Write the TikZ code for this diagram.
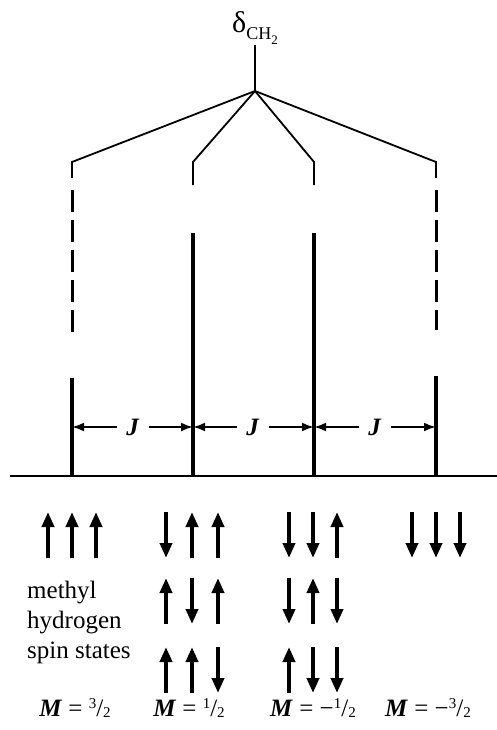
\documentclass[tikz,border=0pt]{standalone}
\usepackage{fontspec}
\setmainfont{Liberation Serif}
\usetikzlibrary{arrows.meta,positioning}
\tikzset{
  brk/.style={line width=1.8pt},
  peak/.style={line width=3.8pt},
  ghost/.style={line width=3pt, dash pattern=on 22pt off 8pt},
  base/.style={line width=2.4pt},
  jarr/.style={-{Latex[length=12pt,width=9pt]}, line width=2.2pt},
  spin/.style={-{Triangle[length=15pt,width=12pt]}, line width=4pt},
  lbl/.style={font=\fontsize{25}{30}\selectfont, inner sep=0pt},
}
\newcommand{\slfrac}[2]{\raisebox{0.3em}{\fontsize{15}{15}\selectfont #1}/\raisebox{-0.05em}{\fontsize{15}{15}\selectfont #2}}
\newcommand{\bfit}[1]{\textbf{\textit{#1}}}

\begin{document}
\begin{tikzpicture}[x=1pt,y=-1pt]
  \useasboundingbox (0,0) rectangle (497,730);
  % chemical shift and splitting tree
  \node[lbl] (delta) at (255,28)
       {\fontsize{30}{30}\selectfont δ\raisebox{-0.25em}{\fontsize{18}{18}\selectfont CH\raisebox{-0.25em}{\fontsize{13}{13}\selectfont 2}}};
  \coordinate (apex) at (255,91);
  \draw[brk] (delta.south) -- (apex);
  \foreach \x/\n in {72/1,193/2,314/3,436/4}
    \coordinate (p\n) at (\x,476);
  \draw[brk] (p1 |- 0,178) -- (p1 |- 0,162) -- (apex) -- (p4 |- 0,162) -- (p4 |- 0,178);
  \draw[brk] (p2 |- 0,185) -- (p2 |- 0,162) -- (apex) -- (p3 |- 0,162) -- (p3 |- 0,185);
  \draw[ghost] (p1 |- 0,190) -- (p1 |- 0,334);
  \draw[ghost] (p4 |- 0,190) -- (p4 |- 0,330);
  % lines of the quartet
  \draw[peak] (p1 |- 0,378) -- (p1);
  \draw[peak] (p2 |- 0,233) -- (p2);
  \draw[peak] (p3 |- 0,233) -- (p3);
  \draw[peak] (p4 |- 0,376) -- (p4);
  \coordinate (b0) at (10,476);
  \coordinate (b1) at (497,476);
  \draw[base] (b0) -- (b1);
  % coupling constants
  \node[lbl, inner xsep=9pt] (j1) at (133,427) {\bfit{J}};
  \node[lbl, inner xsep=9pt] (j2) at (253,427) {\bfit{J}};
  \node[lbl, inner xsep=9pt] (j3) at (375,427) {\bfit{J}};
  \draw[jarr] (j1) -- (p1 |- j1);
  \draw[jarr] (j1) -- (p2 |- j1);
  \draw[jarr] (j2) -- (p2 |- j2);
  \draw[jarr] (j2) -- (p3 |- j2);
  \draw[jarr] (j3) -- (p3 |- j3);
  \draw[jarr] (j3) -- (p4 |- j3);
  % spin states (1 = up, -1 = down)
  \foreach \x/\y/\s in {48/535/1, 72/535/1, 96/535/1,
                        166/535/-1, 192/535/1, 218/535/1,
                        166/601/1, 192/601/-1, 218/601/1,
                        166/670/1, 192/670/1, 218/670/-1,
                        289/535/-1, 313/535/-1, 337/535/1,
                        289/601/-1, 313/601/1, 337/601/-1,
                        289/670/1, 313/670/-1, 337/670/-1,
                        412/535/-1, 436/535/-1, 460/535/-1}
    \draw[spin] (\x,\y+23*\s) -- (\x,\y-23*\s);
  \node[lbl, align=left, anchor=west] (states) at (27,622) {methyl\\hydrogen\\spin states};
  \node[lbl] (m1) at (75,708) {\bfit{M} = \slfrac{3}{2}};
  \node[lbl] (m2) at (189,708) {\bfit{M} = \slfrac{1}{2}};
  \node[lbl] (m3) at (313,708) {\bfit{M} = −\slfrac{1}{2}};
  \node[lbl] (m4) at (428,708) {\bfit{M} = −\slfrac{3}{2}};
\end{tikzpicture}
\end{document}
